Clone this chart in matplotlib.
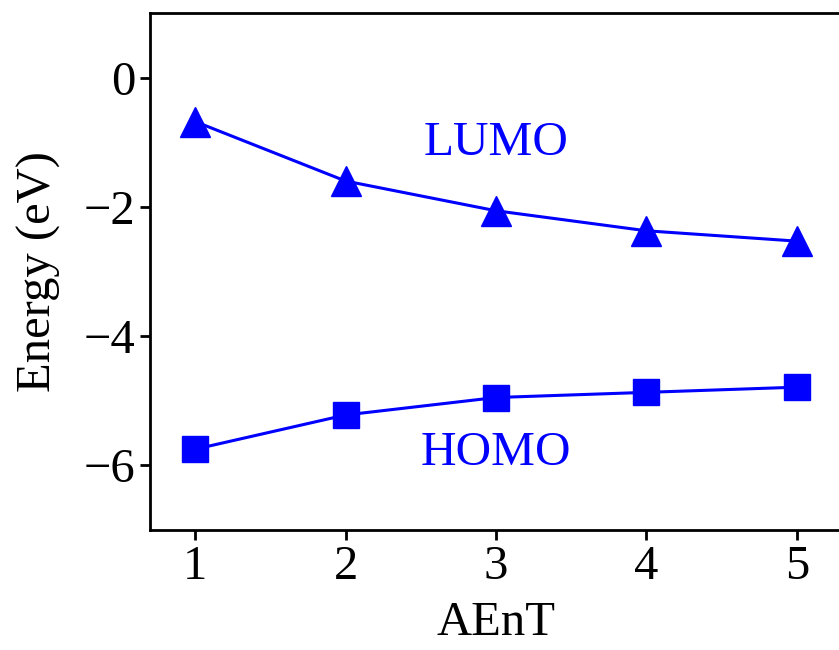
import matplotlib
matplotlib.use("Agg")
import matplotlib.pyplot as plt

plt.rcParams['font.family'] = ['Liberation Serif', 'DejaVu Serif']
plt.rcParams['mathtext.fontset'] = 'stix'

n_units = [1, 2, 3, 4, 5]
lumo = [-0.68, -1.60, -2.06, -2.37, -2.53]
homo = [-5.75, -5.22, -4.95, -4.87, -4.79]

fig = plt.figure(figsize=(8.39, 6.5), dpi=100)
ax = fig.add_axes([150 / 839, 120 / 650, 692 / 839, 517 / 650])

ax.plot(n_units, lumo, color='blue', marker='^', markersize=21, linewidth=2.2)
ax.plot(n_units, homo, color='blue', marker='s', markersize=19, linewidth=2.2)

ax.text(3, -1.2, 'LUMO', color='blue', fontsize=35.5, ha='center', va='baseline')
ax.text(3, -6.0, 'HOMO', color='blue', fontsize=35.5, ha='center', va='baseline')

ax.set_xlim(0.7, 5.3)
ax.set_ylim(-7, 1)
ax.set_xticks(n_units)
ax.set_yticks([0, -2, -4, -6])
ax.set_xlabel('AEnT', fontsize=35, labelpad=9)
ax.set_ylabel('Energy (eV)', fontsize=35, labelpad=16)
ax.tick_params(labelsize=35, width=2, length=7)
for spine in ax.spines.values():
    spine.set_linewidth(2)

fig.savefig('out.png', dpi=100)
